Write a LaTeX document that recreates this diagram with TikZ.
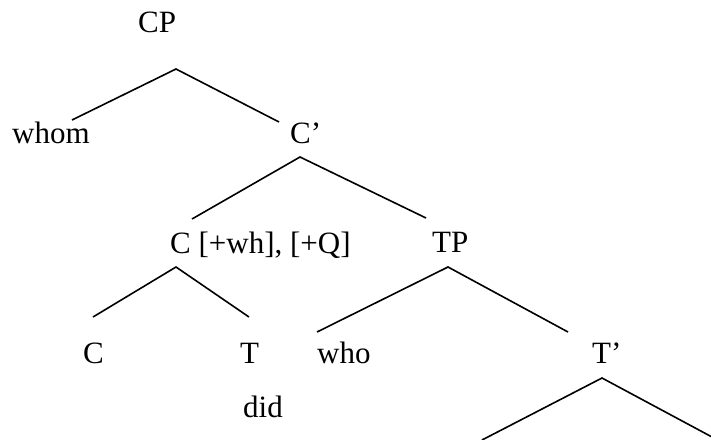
\documentclass[tikz,border=0pt]{standalone}
\usepackage{fontspec}
\setmainfont{Liberation Serif}
\begin{document}
\begin{tikzpicture}[x=1pt,y=-1pt,
  lbl/.style={anchor=base west,inner sep=0pt,font=\fontsize{31}{37}\selectfont},
  branch/.style={line width=1.6pt}]
\useasboundingbox (0,0) rectangle (711,439);
% labels
\node[lbl] (cp) at (138,32) {CP};
\node[lbl] (whom) at (12,143) {whom};
\node[lbl] (cbar) at (290,143) {C’};
\node[lbl] (cwh) at (170,253) {C [+wh], [+Q]};
\node[lbl] (tp) at (432,252) {TP};
\node[lbl] (c) at (83,363) {C};
\node[lbl] (t) at (240,363) {T};
\node[lbl] (who) at (317,363) {who};
\node[lbl] (tbar) at (592,363) {T’};
\node[lbl] (did) at (243,417) {did};
% branch points
\coordinate (cpA) at (176,69);
\coordinate (whomE) at (72,120);
\coordinate (cbarE) at (279,122);
\coordinate (cbarA) at (300,157);
\coordinate (cwhE) at (192,219);
\coordinate (tpE) at (426,218);
\coordinate (cwhA) at (176,267);
\coordinate (cE) at (93,317);
\coordinate (tE) at (249,317);
\coordinate (tpA) at (448,267);
\coordinate (whoE) at (317,332);
\coordinate (tbarE) at (568,332);
\coordinate (tbarA) at (602,378);
\coordinate (lE) at (482,440);
\coordinate (rE) at (712,437);
% branches
\draw[branch] (whomE) -- (cpA) -- (cbarE);
\draw[branch] (cwhE) -- (cbarA) -- (tpE);
\draw[branch] (cE) -- (cwhA) -- (tE);
\draw[branch] (whoE) -- (tpA) -- (tbarE);
\draw[branch] (lE) -- (tbarA) -- (rE);
\end{tikzpicture}
\end{document}
